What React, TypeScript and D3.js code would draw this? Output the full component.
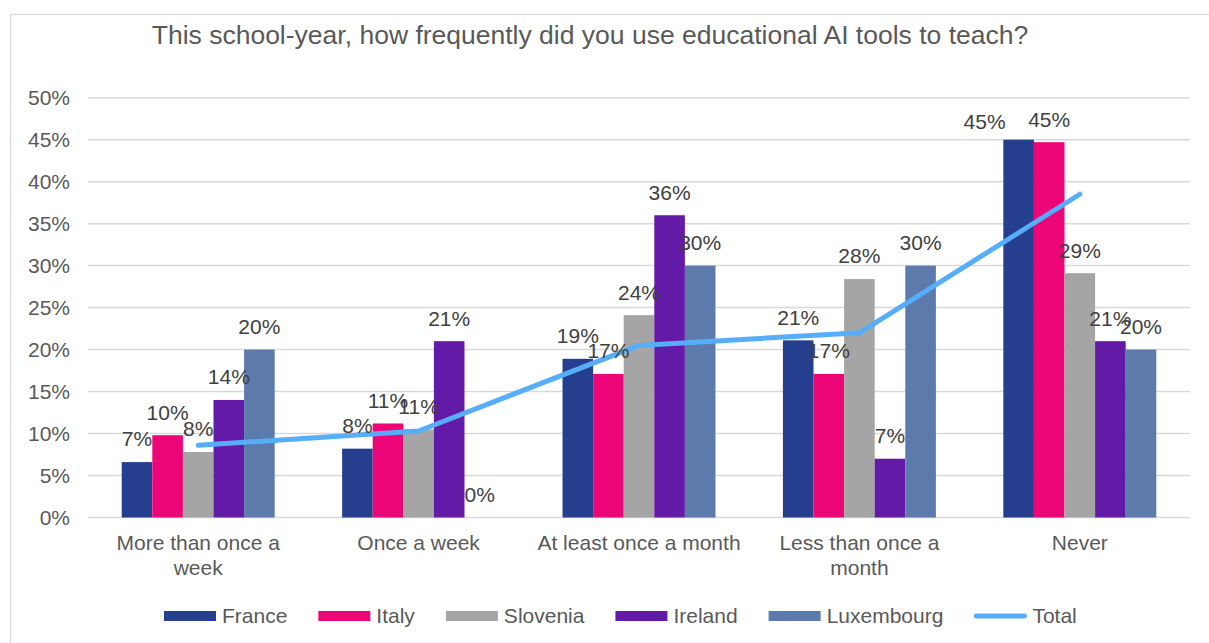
import React from "react";
import * as d3 from "d3";

const categories = ["More than once a week", "Once a week", "At least once a month", "Less than once a month", "Never"];
const categoryLines = [["More than once a", "week"], ["Once a week"], ["At least once a month"], ["Less than once a", "month"], ["Never"]];
const seriesNames = ["France", "Italy", "Slovenia", "Ireland", "Luxembourg"];
const france = [6.6, 8.2, 18.9, 21.1, 45.0];
const italy = [9.8, 11.2, 17.1, 17.1, 44.7];
const slovenia = [7.8, 10.5, 24.1, 28.4, 29.1];
const ireland = [14.0, 21.0, 36.0, 7.0, 21.0];
const luxembourg = [20.0, 0, 30.0, 30.0, 20.0];
const total = [8.6, 10.3, 20.5, 22.0, 38.5];
const yTicks = [0, 5, 10, 15, 20, 25, 30, 35, 40, 45, 50];

const colors = ["#253F8E", "#EC0677", "#A5A5A5", "#631AA7", "#5C7AAB"];
const totalColor = "#56ADF9";
const FONT = "'Liberation Sans', Arial, sans-serif";
const FS = 21;

// one label Excel had moved by hand
const labelNudge: Record<string, [number, number]> = {"4|0": [-34, 5]};

function textWidth(s: string, size: number) {
    const c = document.createElement("canvas").getContext("2d");
    if (!c) return s.length * size * 0.5;
    c.font = `${size}px 'Liberation Sans', Arial`;
    return c.measureText(s).width;
}

export default function App() {
    const width = 1209;
    const height = 643;
    const left = 88, right = 1190, top = 97.7, bottom = 517.5;

    const values = [france, italy, slovenia, ireland, luxembourg];

    const x0 = d3.scaleBand<number>().domain(d3.range(categories.length)).range([left, right]).padding(0);
    const groupW = x0.bandwidth() * 0.694;
    const x1 = d3.scaleBand<number>().domain(d3.range(seriesNames.length)).range([0, groupW]);
    const y = d3.scaleLinear().domain([0, 50]).range([bottom, top]);

    const line = d3.line<number>()
        .x((_, i) => (x0(i) ?? 0) + x0.bandwidth() / 2)
        .y(d => y(d));

    // legend layout
    const legendItems = [...seriesNames, "Total"];
    let lx = 164;
    const legendPos = legendItems.map(name => {
        const p = lx;
        lx += 52 + 6 + textWidth(name, FS) + 31;
        return p;
    });

    return (
        <svg width={width} height={height} style={{position: "fixed", left: 0, top: 0, background: "#fff"}} fontFamily={FONT}>
            <rect x={10.5} y={14.5} width={1220} height={660} fill="#fff" stroke="#D9D9D9" strokeWidth={1.2} />
            <text x={590} y={35} dy="0.35em" textAnchor="middle" fontSize={26.5} fill="#595959">
                This school-year, how frequently did you use educational AI tools to teach?
            </text>

            {yTicks.map(t => (
                <g key={t}>
                    <line x1={left} x2={right} y1={y(t)} y2={y(t)} stroke="#D9D9D9" strokeWidth={1.5} />
                    <text x={70} y={y(t)} dy="0.35em" textAnchor="end" fontSize={FS} fill="#595959">{t}%</text>
                </g>
            ))}

            {categories.map((c, ci) => (
                <g key={c} transform={`translate(${(x0(ci) ?? 0) + (x0.bandwidth() - groupW) / 2},0)`}>
                    {values.map((vals, si) => (
                        <rect key={si} x={x1(si)} y={y(vals[ci])} width={x1.bandwidth()} height={bottom - y(vals[ci])}
                              fill={colors[si]} />
                    ))}
                </g>
            ))}

            <path d={line(total) ?? ""} fill="none" stroke={totalColor} strokeWidth={5} strokeLinecap="round" strokeLinejoin="round" />

            {categories.map((c, ci) => (
                <g key={c} transform={`translate(${(x0(ci) ?? 0) + (x0.bandwidth() - groupW) / 2},0)`}>
                    {values.map((vals, si) => {
                        const n = labelNudge[`${ci}|${si}`] ?? [0, 0];
                        return (
                            <text key={si} x={(x1(si) ?? 0) + x1.bandwidth() / 2 + n[0]} y={y(vals[ci]) - 23 + n[1]} dy="0.35em"
                                  textAnchor="middle" fontSize={FS} fill="#404040">
                                {Math.round(vals[ci])}%
                            </text>
                        );
                    })}
                </g>
            ))}

            {categoryLines.map((lines, ci) => (
                <text key={ci} x={(x0(ci) ?? 0) + x0.bandwidth() / 2} y={543} textAnchor="middle" fontSize={FS} fill="#595959">
                    {lines.map((l, li) => (
                        <tspan key={li} x={(x0(ci) ?? 0) + x0.bandwidth() / 2} dy={li === 0 ? "0.35em" : 25}>{l}</tspan>
                    ))}
                </text>
            ))}

            {legendItems.map((name, i) => (
                <g key={name} transform={`translate(${legendPos[i]},616)`}>
                    {i < seriesNames.length
                        ? <rect x={0} y={-5} width={52} height={10} fill={colors[i]} />
                        : <line x1={2} x2={50} y1={0} y2={0} stroke={totalColor} strokeWidth={5} strokeLinecap="round" />}
                    <text x={58} y={0} dy="0.35em" fontSize={FS} fill="#595959">{name}</text>
                </g>
            ))}
        </svg>
    );
}
